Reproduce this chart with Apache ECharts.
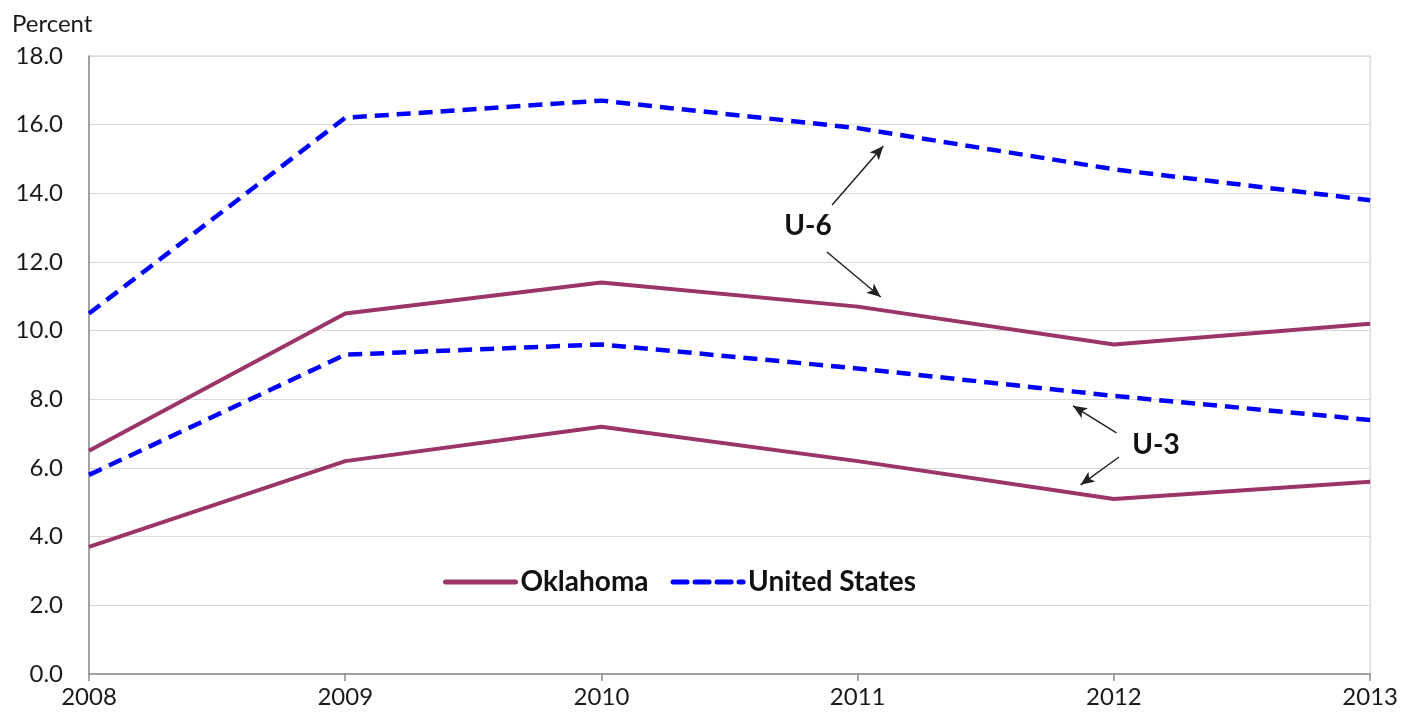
<!DOCTYPE html>
<html>
<head>
<meta charset="utf-8">
<script src="https://cdn.jsdelivr.net/npm/echarts@6/dist/echarts.min.js"></script>
<style>
  html, body { margin: 0; padding: 0; background: #fff; }
  #chart { width: 1401px; height: 713px; }
</style>
</head>
<body>
<div id="chart"></div>
<script>
// years on the x axis
const years = [2008, 2009, 2010, 2011, 2012, 2013]
// unemployment rates, percent
const okU6 = [6.5, 10.5, 11.4, 10.7, 9.6, 10.2]
const okU3 = [3.7, 6.2, 7.2, 6.2, 5.1, 5.6]
const usU6 = [10.5, 16.2, 16.7, 15.9, 14.7, 13.8]
const usU3 = [5.8, 9.3, 9.6, 8.9, 8.1, 7.4]

const okColor = '#9b3467'
const usColor = '#0000ff'
const font = 'Lato, "Noto Sans", sans-serif'

const chart = echarts.init(document.getElementById('chart'))

function pairs(vals) {
  return years.map((y, i) => [y, vals[i]])
}

// arrow annotations (start -> end, in data units)
const arrows = [
  [[2010.90, 13.66], [2011.10, 15.38]],
  [[2010.88, 12.29], [2011.09, 10.98]],
  [[2012.01, 7.02], [2011.84, 7.81]],
  [[2012.02, 6.32], [2011.87, 5.51]]
]

const okStyle = { color: okColor, width: 4, type: 'solid' }
const usStyle = { color: usColor, width: 4.5, type: [14, 8] }

chart.setOption({
  animation: false,
  grid: {
    left: 89,
    right: 29,
    top: 56,
    bottom: 39,
    show: true,
    borderColor: '#c8c8c8',
    borderWidth: 1
  },
  legend: {
    left: 438,
    top: 563,
    itemWidth: 70,
    itemHeight: 14,
    itemGap: 22,
    itemStyle: { opacity: 0 },
    lineStyle: { width: 5, cap: 'round' },
    textStyle: { fontFamily: font, fontWeight: 'bold', fontSize: 28, color: '#111' },
    data: ['Oklahoma', 'United States']
  },
  xAxis: {
    type: 'value',
    min: 2008,
    max: 2013,
    interval: 1,
    axisLine: { lineStyle: { color: '#8c8c8c', width: 1.5 } },
    axisTick: { show: true, length: 7, lineStyle: { color: '#8c8c8c', width: 1.5 } },
    axisLabel: {
      formatter: v => String(v),
      fontFamily: font,
      fontSize: 24,
      color: '#1a1a1a',
      margin: 11
    },
    splitLine: { show: false }
  },
  yAxis: {
    type: 'value',
    min: 0,
    max: 18,
    interval: 2,
    name: 'Percent',
    nameLocation: 'end',
    nameGap: 20,
    nameTextStyle: { fontFamily: font, fontSize: 24, color: '#1a1a1a', align: 'left', padding: [0, 0, 0, -77] },
    axisLine: { show: true, lineStyle: { color: '#8c8c8c', width: 1.5 } },
    axisTick: { show: false },
    axisLabel: {
      formatter: v => v.toFixed(1),
      fontFamily: font,
      fontSize: 24,
      color: '#1a1a1a',
      margin: 26
    },
    splitLine: { lineStyle: { color: '#d9d9d9', width: 1.2 } }
  },
  series: [
    {
      name: 'Oklahoma',
      type: 'line',
      data: pairs(okU6),
      symbol: 'none',
      color: okColor,
      lineStyle: okStyle,
      markLine: {
        silent: true,
        symbol: ['none', 'arrow'],
        symbolSize: [9, 14],
        label: { show: false },
        lineStyle: { color: '#222', width: 1.5, type: 'solid' },
        data: arrows.map(a => [{ coord: a[0] }, { coord: a[1] }])
      }
    },
    {
      name: 'Oklahoma',
      type: 'line',
      data: pairs(okU3),
      symbol: 'none',
      color: okColor,
      lineStyle: okStyle
    },
    {
      name: 'United States',
      type: 'line',
      data: pairs(usU6),
      symbol: 'none',
      color: usColor,
      lineStyle: usStyle
    },
    {
      name: 'United States',
      type: 'line',
      data: pairs(usU3),
      symbol: 'none',
      color: usColor,
      lineStyle: usStyle
    }
  ],
  graphic: [
    {
      type: 'text',
      x: 808,
      y: 226,
      style: { text: 'U-6', fontFamily: font, fontWeight: 'bold', fontSize: 28, fill: '#111', align: 'center', verticalAlign: 'middle' }
    },
    {
      type: 'text',
      x: 1156,
      y: 445,
      style: { text: 'U-3', fontFamily: font, fontWeight: 'bold', fontSize: 28, fill: '#111', align: 'center', verticalAlign: 'middle' }
    }
  ]
})
</script>
</body>
</html>
